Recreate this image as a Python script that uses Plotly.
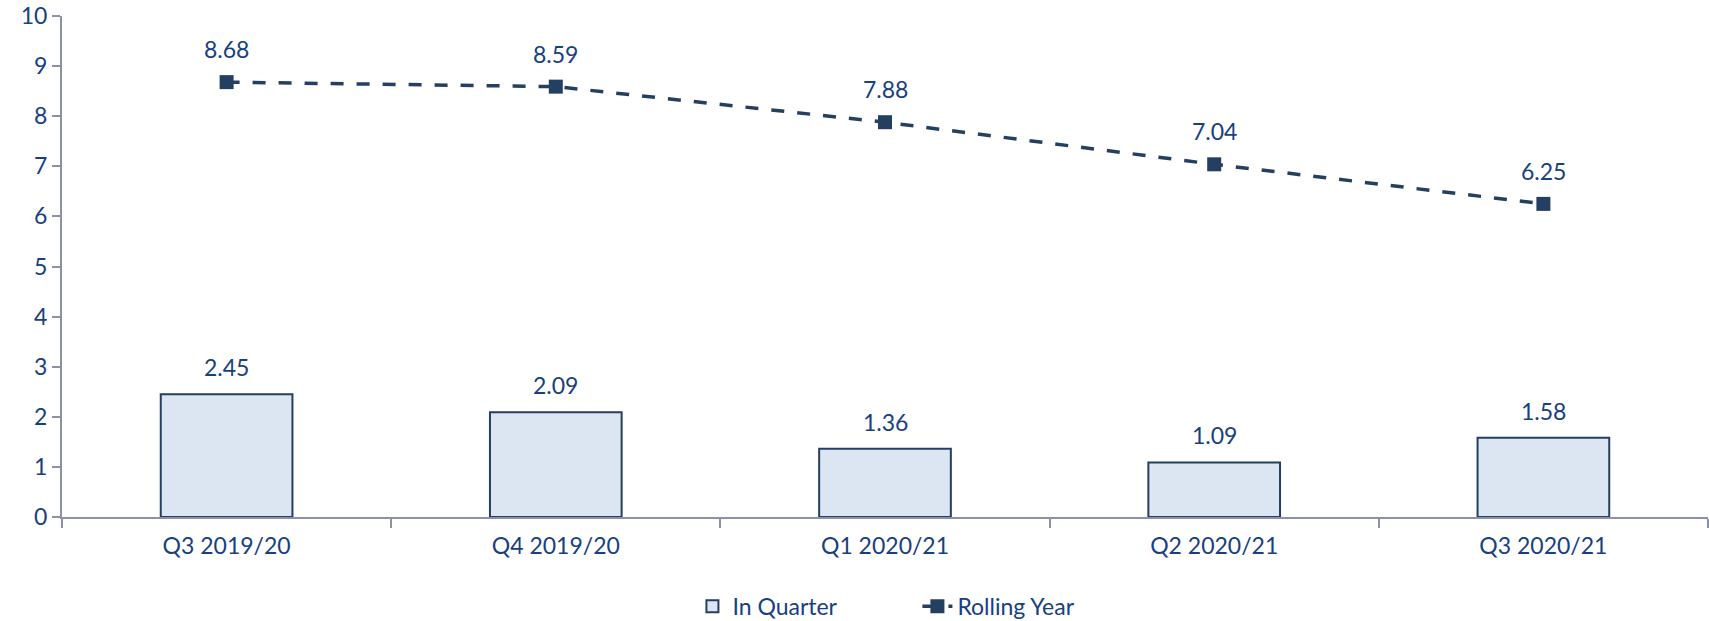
import plotly.graph_objects as go

categories = ["Q3 2019/20", "Q4 2019/20", "Q1 2020/21", "Q2 2020/21", "Q3 2020/21"]
in_quarter = [2.45, 2.09, 1.36, 1.09, 1.58]
rolling_year = [8.68, 8.59, 7.88, 7.04, 6.25]
y_ticks = list(range(0, 11))

TEXT = "#17407F"
NAVY = "#243F60"
AXIS = "#8C90A8"
FONT = "Lato"
FS = 23

fig = go.Figure()
fig.add_trace(go.Bar(
    x=categories, y=in_quarter, name="In Quarter",
    marker=dict(color="#DCE6F2", line=dict(color=NAVY, width=2)),
    width=0.4,
))
fig.add_trace(go.Scatter(
    x=categories, y=rolling_year, name="Rolling Year", mode="lines+markers",
    line=dict(color=NAVY, width=3.5, dash="13px,13px"),
    marker=dict(symbol="square", size=14, color=NAVY),
))

for c, v in zip(categories, in_quarter):
    fig.add_annotation(x=c, y=v, text=f"{v:.2f}", showarrow=False, yshift=27,
                       font=dict(family=FONT, size=FS, color=TEXT))
for c, v in zip(categories, rolling_year):
    fig.add_annotation(x=c, y=v, text=f"{v:.2f}", showarrow=False, yshift=33,
                       font=dict(family=FONT, size=FS, color=TEXT))

fig.update_layout(
    width=1709, height=621,
    margin=dict(l=62, r=1, t=16, b=104, autoexpand=False),
    plot_bgcolor="white", paper_bgcolor="white",
    font=dict(family=FONT, size=FS, color=TEXT),
    bargap=0.6,
    showlegend=True,
    legend=dict(orientation="h", x=0.383, xanchor="left", y=-0.178, yanchor="middle",
                font=dict(family=FONT, size=FS, color=TEXT),
                entrywidth=180, traceorder="normal"),
    xaxis=dict(showline=True, linecolor=AXIS, linewidth=2, ticks="outside",
               tickson="boundaries", ticklen=9, tickcolor=AXIS, tickwidth=2,
               showgrid=False, zeroline=False, automargin=False,
               ticklabelstandoff=7,
               tickfont=dict(family=FONT, size=FS, color=TEXT)),
    yaxis=dict(range=[0, 10], tickvals=y_ticks, showline=True, linecolor=AXIS, linewidth=2,
               ticks="outside", ticklen=8, tickcolor=AXIS, tickwidth=2,
               showgrid=False, zeroline=False, automargin=False,
               ticklabeloverflow="allow",
               tickfont=dict(family=FONT, size=FS, color=TEXT)),
)

# remove the browser's default 8px body margin so the figure fills the window exactly
fig.write_html("out.html", config={"displayModeBar": False},
               post_script="document.body.style.margin='0';document.body.style.overflow='hidden';")
